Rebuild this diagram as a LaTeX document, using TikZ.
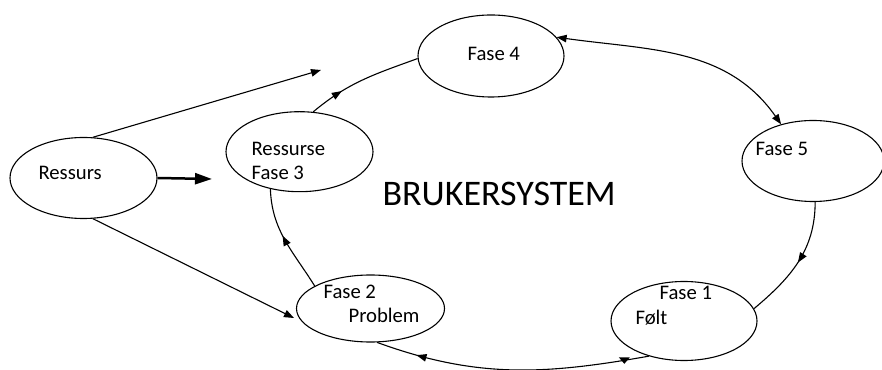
\documentclass[tikz,border=0pt]{standalone}
\usepackage{fontspec}
\setmainfont{Carlito}
\usepackage{tikz}
\usetikzlibrary{shapes.geometric,arrows.meta,decorations.markings}

\begin{document}
\begin{tikzpicture}[x=1pt,y=1pt,line width=1.1pt,
  fase/.style={ellipse,draw,inner sep=0pt},
  tekst/.style={anchor=base west,inner sep=0pt,font=\fontsize{20.7}{24}\selectfont},
  pil/.style={-{Triangle[length=10pt,width=7.5pt]}},
  midtpil/.style={postaction={decorate},decoration={markings,
    mark=at position #1 with {\arrow{Triangle[length=10pt,width=7.5pt]}}}}]

\useasboundingbox (0,0) rectangle (882,369);

% ellipses
\node[fase,minimum width=147pt,minimum height=81pt] (ressurs) at (83.5,191) {};
\node[fase,minimum width=147pt,minimum height=80pt] (fase3) at (299.5,217.3) {};
\node[fase,minimum width=146pt,minimum height=82pt] (fase4) at (491,313) {};
\node[fase,minimum width=142pt,minimum height=81pt] (fase5) at (813,208) {};
\node[fase,minimum width=146pt,minimum height=79pt] (fase1) at (684,48) {};
\node[fase,minimum width=148pt,minimum height=67pt] (fase2) at (370.5,60.5) {};

% texts
\node[tekst] (t-ressurs) at (38,189) {Ressurs};
\node[tekst] (t-ressurse) at (251,213.3) {Ressurse}; \node[tekst] (t-fase3) at (251,189) {Fase 3};
\node[tekst] (t-fase4) at (467,308.5) {Fase 4};
\node[tekst] (t-fase5) at (755,213) {Fase 5};
\node[tekst] (t-fase1) at (659,69) {Fase 1}; \node[tekst] (t-folt) at (635,45) {Følt};
\node[tekst] (t-fase2) at (323,70) {Fase 2}; \node[tekst] (t-problem) at (348,46) {Problem};
\node[tekst,font=\fontsize{36}{40}\selectfont] (bruker) at (382,163) {BRUKERSYSTEM};

% free ends of the resource arrows
\coordinate (opp) at (321,299);
\coordinate (ned) at (294,51);
\coordinate (midt) at (212,190);

\draw[pil] (ressurs.77) -- (opp);
\draw[pil] (ressurs.-77) -- (ned);
\draw[-{Triangle[length=17pt,width=11pt]},line width=2.5pt] (ressurs.east) -- (midt);

% the cycle
\draw[midtpil=0.3] (fase3.71) to[out=40,in=200] (fase4.182);
\draw[{Triangle[length=10pt,width=7.5pt]}-{Triangle[length=10pt,width=7.5pt]}] (fase4.16) to[out=-8,in=125] (fase5.131);
\draw[midtpil=0.5] (fase5.-87) to[out=-90,in=40] (fase1.10);
\draw[postaction={decorate},decoration={markings,
    mark=at position 0.09 with {\pgftransformresetnontranslations
      \fill (-5.5pt,3pt) -- (5.5pt,3pt) -- (0,-3.5pt) -- cycle;},
    mark=at position 0.85 with {\arrow{Triangle[length=10pt,width=7.5pt]}}}]
  (fase1.-135) to[out=190,in=-20] (fase2.-79);
\draw[midtpil=0.55] (fase2.158) to[out=122,in=-88] (fase3.-128);

\end{tikzpicture}
\end{document}
